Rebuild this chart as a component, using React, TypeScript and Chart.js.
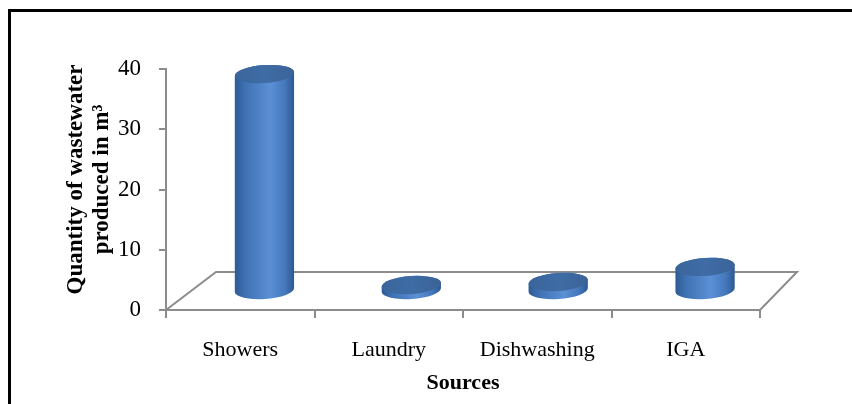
import React, { useEffect, useRef } from "react";
import { Chart, registerables } from "chart.js";

Chart.register(...registerables);

// ---- data ----
const categories = ["Showers", "Laundry", "Dishwashing", "IGA"];
const wastewater = [36, 1, 1.5, 4];
const yTicks = [0, 10, 20, 30, 40];
const yTitleLines = ["Quantity of wastewater", "produced in m\u00B3"];
const xTitle = "Sources";

// ---- style ----
const SERIF = "'Liberation Serif', 'Times New Roman', serif";
const AXIS_GRAY = "#8c8c8c";
const BACK_DX_LEFT = 50;
const BACK_DX_RIGHT = 37;
const BACK_DY = 38;
const ELLIPSE_RY = 9;
const ELLIPSE_ROT = -0.07;

const floorPlugin = {
  id: "floor3d",
  beforeDatasetsDraw(chart: any) {
    const { ctx, chartArea: a } = chart;
    ctx.save();
    ctx.strokeStyle = AXIS_GRAY;
    ctx.lineWidth = 2;
    ctx.beginPath();
    ctx.moveTo(a.left, a.bottom);
    ctx.lineTo(a.left + BACK_DX_LEFT, a.bottom - BACK_DY);
    ctx.lineTo(a.right + BACK_DX_RIGHT, a.bottom - BACK_DY);
    ctx.lineTo(a.right, a.bottom);
    ctx.closePath();
    ctx.stroke();
    ctx.restore();
  },
};

const cylinderPlugin = {
  id: "cylinders",
  afterDatasetsDraw(chart: any) {
    const { ctx, chartArea: a } = chart;
    const meta = chart.getDatasetMeta(0);
    meta.data.forEach((el: any) => {
      const { x, y, base, width } = el.getProps(["x", "y", "base", "width"], true);
      const t = (x - a.left) / (a.right - a.left);
      const dx = (BACK_DX_LEFT + (BACK_DX_RIGHT - BACK_DX_LEFT) * t) / 2;
      const dy = BACK_DY / 2;
      const cx = x + dx;
      const rx = width / 2;
      const ry = ELLIPSE_RY;
      const topY = y - dy;
      const baseY = base - dy;
      const cr = Math.cos(ELLIPSE_ROT);
      const sr = Math.sin(ELLIPSE_ROT);

      ctx.save();
      const g = ctx.createLinearGradient(cx - rx, 0, cx + rx, 0);
      g.addColorStop(0, "#2d5a93");
      g.addColorStop(0.18, "#3f72b3");
      g.addColorStop(0.6, "#5b90d6");
      g.addColorStop(0.85, "#4477bb");
      g.addColorStop(1, "#2c5890");
      ctx.beginPath();
      ctx.ellipse(cx, baseY, rx, ry, ELLIPSE_ROT, 0, Math.PI, false);
      ctx.lineTo(cx - rx * cr, topY - rx * sr);
      ctx.ellipse(cx, topY, rx, ry, ELLIPSE_ROT, Math.PI, 0, false);
      ctx.closePath();
      ctx.fillStyle = g;
      ctx.fill();
      const gt = ctx.createLinearGradient(cx - rx, topY, cx + rx, topY);
      gt.addColorStop(0, "#3a659c");
      gt.addColorStop(0.5, "#3f6ca5");
      gt.addColorStop(1, "#3a6398");
      ctx.beginPath();
      ctx.ellipse(cx, topY, rx, ry, ELLIPSE_ROT, 0, Math.PI * 2);
      ctx.fillStyle = gt;
      ctx.fill();
      ctx.restore();
    });
  },
};

const yTitlePlugin = {
  id: "yTitle",
  afterDraw(chart: any) {
    const { ctx, chartArea: a } = chart;
    ctx.save();
    ctx.fillStyle = "#000";
    ctx.font = `bold 23px ${SERIF}`;
    ctx.textAlign = "center";
    ctx.textBaseline = "middle";
    const cy = (a.top + a.bottom) / 2 - 10;
    yTitleLines.forEach((line, i) => {
      ctx.save();
      ctx.translate(76 + i * 26, cy);
      ctx.rotate(-Math.PI / 2);
      ctx.fillText(line, 0, 0);
      ctx.restore();
    });
    ctx.restore();
  },
};

export default function App() {
  const ref = useRef<HTMLCanvasElement | null>(null);

  useEffect(() => {
    if (!ref.current) return;
    const chart = new Chart(ref.current, {
      type: "bar",
      data: {
        labels: categories,
        datasets: [
          {
            data: wastewater,
            backgroundColor: "rgba(0,0,0,0)",
            borderWidth: 0,
            categoryPercentage: 1,
            barPercentage: 0.4,
          },
        ],
      },
      options: {
        responsive: false,
        animation: false,
        events: [],
        layout: { padding: { left: 0, right: 92, top: 69, bottom: 0 } },
        plugins: {
          legend: { display: false },
          tooltip: { enabled: false },
          title: { display: false },
        },
        scales: {
          x: {
            offset: true,
            grid: {
              offset: true,
              drawOnChartArea: false,
              drawTicks: true,
              tickLength: 8,
              color: AXIS_GRAY,
              lineWidth: 2,
            },
            border: { display: false },
            ticks: {
              color: "#000",
              font: { family: SERIF, size: 22 },
              padding: 19,
              maxRotation: 0,
              autoSkip: false,
            },
            title: {
              display: true,
              text: xTitle,
              color: "#000",
              font: { family: SERIF, size: 22, weight: "bold" },
              padding: { top: 0, bottom: 7 },
            },
            afterFit(scale: any) {
              scale.height = 94;
            },
          },
          y: {
            min: yTicks[0],
            max: yTicks[yTicks.length - 1],
            grid: {
              drawOnChartArea: false,
              drawTicks: true,
              tickLength: 7,
              color: AXIS_GRAY,
              lineWidth: 2,
            },
            border: { display: true, color: AXIS_GRAY, width: 2 },
            ticks: {
              color: "#000",
              font: { family: SERIF, size: 23 },
              padding: 18,
            },
            afterBuildTicks(scale: any) {
              scale.ticks = yTicks.map((v) => ({ value: v }));
            },
            afterFit(scale: any) {
              scale.width = 166;
            },
          },
        },
      },
      plugins: [floorPlugin, cylinderPlugin, yTitlePlugin],
    });
    return () => chart.destroy();
  }, []);

  return (
    <div style={{ position: "absolute", left: 0, top: 0, width: 852, height: 404, overflow: "hidden", background: "#fff" }}>
      <div
        style={{
          position: "absolute",
          left: 8,
          top: 9,
          width: 860,
          height: 420,
          borderTop: "3px solid #000",
          borderLeft: "3px solid #000",
          boxSizing: "border-box",
        }}
      />
      <canvas ref={ref} width={852} height={404} style={{ position: "absolute", left: 0, top: 0, width: 852, height: 404 }} />
    </div>
  );
}
